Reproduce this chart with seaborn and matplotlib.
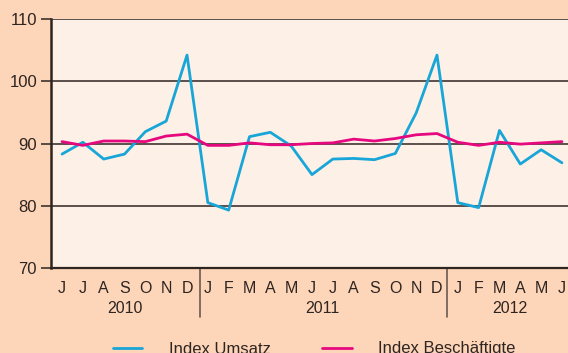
import matplotlib
matplotlib.use("Agg")
import matplotlib.pyplot as plt
import matplotlib.transforms as mtransforms
from matplotlib.lines import Line2D
import pandas as pd
import seaborn as sns

# Monthly index values, June 2010 to June 2012
months = ["J", "J", "A", "S", "O", "N", "D",
          "J", "F", "M", "A", "M", "J", "J", "A", "S", "O", "N", "D",
          "J", "F", "M", "A", "M", "J"]
umsatz = [88.3, 90.2, 87.5, 88.3, 91.9, 93.6, 104.2,
          80.5, 79.3, 91.1, 91.8, 89.6, 85.0, 87.5, 87.6, 87.4, 88.4, 94.9, 104.2,
          80.5, 79.7, 92.1, 86.7, 89.0, 86.9]
beschaeftigte = [90.3, 89.7, 90.4, 90.4, 90.3, 91.2, 91.5,
                 89.7, 89.7, 90.1, 89.8, 89.8, 90.0, 90.1, 90.7, 90.4, 90.8, 91.4, 91.6,
                 90.2, 89.7, 90.2, 89.9, 90.1, 90.3]
years = ["2010", "2011", "2012"]
year_spans = [(0, 6), (7, 18), (19, 24)]
year_breaks = [6.6, 18.5]
y_ticks = [70, 80, 90, 100, 110]
series_names = ["Index Umsatz", "Index Beschäftigte"]

BLUE = "#18a5d8"
MAGENTA = "#e6087f"
OUTER = "#fdd5b9"
INNER = "#fdf0e6"
INK = "#2e2420"

sns.set_theme(style="white")
plt.rcParams["font.family"] = ["Liberation Sans", "DejaVu Sans"]

df = pd.DataFrame({"pos": range(len(months)), "umsatz": umsatz, "besch": beschaeftigte})

fig = plt.figure(figsize=(5.68, 3.53), dpi=100, facecolor=OUTER)
ax = fig.add_axes([51 / 568, 1 - 268 / 353, 1 - 51 / 568, (268 - 19) / 353])
ax.set_facecolor(INNER)

# horizontal grid lines
for v in y_ticks[1:]:
    ax.axhline(v, color=INK, lw=1.1, zorder=1)

sns.lineplot(data=df, x="pos", y="umsatz", ax=ax, color=BLUE, lw=2.0, zorder=3)
sns.lineplot(data=df, x="pos", y="besch", ax=ax, color=MAGENTA, lw=2.0, zorder=4)

ax.set_xlim(-0.53, 24.29)
ax.set_ylim(70, 110)
ax.set_xlabel("")
ax.set_ylabel("")

for side in ["top", "right"]:
    ax.spines[side].set_visible(False)
ax.spines["left"].set_color(INK)
ax.spines["left"].set_linewidth(1.8)
ax.spines["bottom"].set_color(INK)
ax.spines["bottom"].set_linewidth(1.6)

ax.set_yticks(y_ticks)
ax.set_yticklabels([str(v) for v in y_ticks])
ax.tick_params(axis="y", direction="out", length=7, width=1.1, color=INK,
               labelsize=12, labelcolor=INK, pad=3, left=True)
ax.set_xticks(range(len(months)))
ax.set_xticklabels(months)
ax.tick_params(axis="x", length=0, labelsize=11.5, labelcolor=INK, pad=9.5)

trans = mtransforms.blended_transform_factory(ax.transData, ax.transAxes)
for name, (a, b) in zip(years, year_spans):
    ax.text((a + b) / 2, -0.162, name, transform=trans, ha="center", va="center",
            fontsize=11.5, color=INK)
for xb in year_breaks:
    ax.add_line(Line2D([xb, xb], [0, -0.197], transform=trans, color="#6b5a50",
                       lw=1.2, clip_on=False))

handles = [Line2D([], [], color=BLUE, lw=2.0), Line2D([], [], color=MAGENTA, lw=2.0)]
fig.legend(handles, series_names, loc="center left",
           bbox_to_anchor=(113 / 568, 1 - 349 / 353), ncol=2, frameon=False,
           fontsize=12, handlelength=1.75, handletextpad=1.6, columnspacing=3.1,
           borderpad=0, borderaxespad=0, labelcolor=INK)

fig.savefig("out.png", dpi=100, facecolor=OUTER)
